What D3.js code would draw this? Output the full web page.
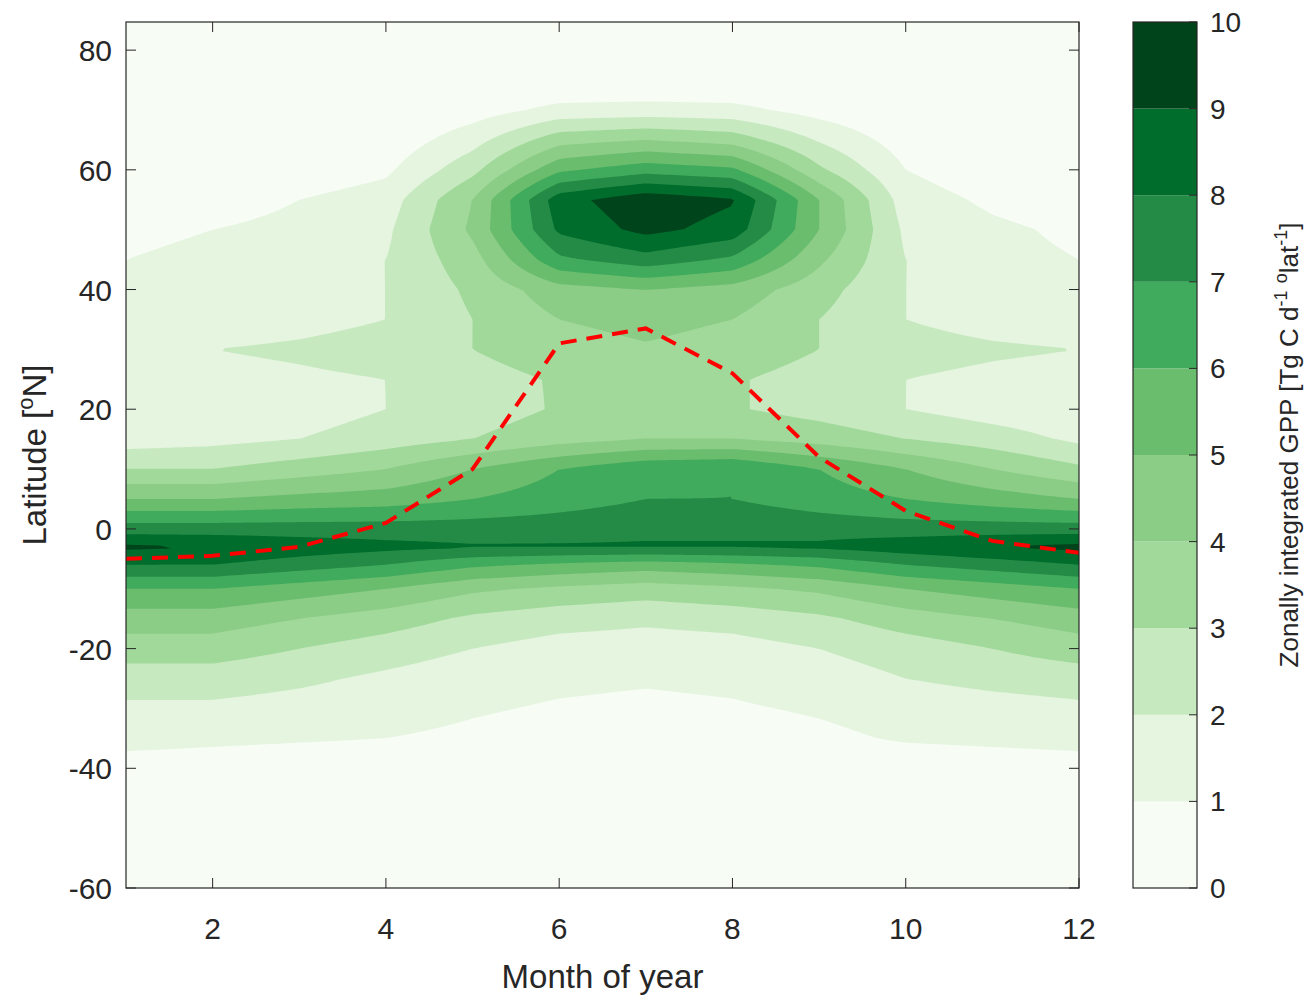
<!DOCTYPE html>
<html><head><meta charset="utf-8">
<script src="https://cdn.jsdelivr.net/npm/d3@7"></script>
<style>body{margin:0;background:#fff}text{font-family:"Liberation Sans",Arial,sans-serif;fill:#262626}</style>
</head><body><svg id="c" width="1308" height="998"></svg>
<script>
const months=[1,2,3,4,5,6,7,8,9,10,11,12];
const lats=[-60,-45,-40,-35,-30,-25,-20,-15,-10,-6,-3,0,5,10,15,20,25,30,35,40,45,50,55,60,65,70,75,85];
const gpp=[
[0,0,0,0,0,0,0,0,0,0,0,0],
[0,0,0,0,0,0,0,0,0,0,0,0],
[0.6,0.5,0.4,0.3,0.2,0.2,0.2,0.2,0.3,0.4,0.5,0.6],
[1.3,1.2,1.1,1,0.8,0.6,0.6,0.6,0.8,1.1,1.2,1.3],
[1.8,1.8,1.6,1.4,1.1,0.9,0.8,0.9,1.1,1.4,1.6,1.8],
[2.5,2.5,2.2,1.8,1.4,1.2,1.1,1.2,1.5,2,2.3,2.5],
[3.5,3.5,3,2.5,2,1.6,1.5,1.6,2,2.5,3,3.5],
[4.5,4.5,4,3.5,2.8,2.4,2.2,2.4,2.8,3.5,4,4.5],
[6,6,5.5,5,4.2,3.8,3.5,3.8,4.2,5,5.5,6],
[8,8,7.5,7,6.2,5.8,5.5,5.8,6.2,7,7.5,8],
[9.2,9,8.6,8.3,8.1,8.1,8.1,8.1,8.2,8.6,9,9.3],
[7.5,7.5,7.5,7.5,7.5,7.6,7.8,7.8,7.6,7.5,7.5,7.5],
[5,5,5.3,5.5,6,6.5,7,7,6.5,6,5.5,5],
[3,3,3.5,4,5,6,6.8,7,6,5,4,3.2],
[1.5,1.7,2,2.5,3,3.6,4,4,3.6,3,2.5,1.8],
[1.2,1.2,1.5,2,2.5,3.1,3.3,3.1,2.6,2,1.5,1.2],
[1.5,1.6,1.8,2,2.6,3.1,3.3,3.1,2.6,2,1.7,1.5],
[2,2,2.2,2.5,3,3.6,3.9,3.6,3,2.5,2.2,2],
[1.2,1.3,1.6,2,3,4,4.3,4,3,2,1.5,1.2],
[1,1.2,1.5,2,3.2,4.6,5,4.6,3.4,2,1.3,1],
[1,1.2,1.5,2,3.6,6.8,7.6,6.8,4.2,2,1.3,1],
[0.8,1,1.3,1.8,4.2,8.2,9.3,8.6,5,1.8,1.2,0.8],
[0.3,0.5,1,1.5,4,8.6,9.7,9.1,5,1.5,0.8,0.4],
[0,0,0.3,0.8,2.7,5.8,6.6,6.2,3.2,1,0.3,0],
[0,0,0,0.3,1.6,3.6,4,3.6,1.9,0.5,0,0],
[0,0,0,0,0.5,1.3,1.4,1.3,0.6,0,0,0],
[0,0,0,0,0,0,0,0,0,0,0,0],
[0,0,0,0,0,0,0,0,0,0,0,0]];
const lineLat=[-5,-4.5,-3,1,10,31,33.5,26,12,3,-2,-4];
const xTicks=[2,4,6,8,10,12], yTicks=[-60,-40,-20,0,20,40,60,80], cTicks=[0,1,2,3,4,5,6,7,8,9,10];
const colors=["#f7fcf5","#e5f5e0","#c7e9c0","#a1d99b","#8bcc86","#6abd6d","#41ab5d","#238b45","#006d2c","#00441b"];

const svg=d3.select("#c");
const L=126,R=1079,T=22,B=888;
const x=d3.scaleLinear().domain([1,12]).range([L,R]);
const y=d3.scaleLinear().domain([-60,84.7]).range([B,T]);

const nx=220, ny=300, latMin=-60, latMax=85;
const vals=new Array(nx*ny);
for(let j=0;j<ny;j++){const la=latMax-(latMax-latMin)*j/(ny-1);
 let k=d3.bisectRight(lats,la)-1;k=Math.max(0,Math.min(lats.length-2,k));
 const t=(la-lats[k])/(lats[k+1]-lats[k]);
 for(let i=0;i<nx;i++){const m=1+11*i/(nx-1);let a=Math.min(10,Math.floor(m-1));const s=m-1-a;const a2=Math.min(11,a+1);
  const v0=gpp[k][a]*(1-s)+gpp[k][a2]*s, v1=gpp[k+1][a]*(1-s)+gpp[k+1][a2]*s;
  vals[j*nx+i]=v0*(1-t)+v1*t;}}
const conts=d3.contours().size([nx,ny]).thresholds(d3.range(1,10))(vals);
const proj=d3.geoTransform({point:function(px,py){
  const gx=Math.max(0,Math.min(nx-1,px-0.5)), gy=Math.max(0,Math.min(ny-1,py-0.5));
  this.stream.point(x(1+11*gx/(nx-1)), y(latMax-(latMax-latMin)*gy/(ny-1)));}});
const path=d3.geoPath(proj);
svg.append("defs").append("clipPath").attr("id","clp").append("rect").attr("x",L).attr("y",T).attr("width",R-L).attr("height",B-T);
const g=svg.append("g").attr("clip-path","url(#clp)");
g.append("rect").attr("x",L).attr("y",T).attr("width",R-L).attr("height",B-T).attr("fill",colors[0]);
g.selectAll("path.c").data(conts).join("path").attr("d",path).attr("fill",d=>colors[d.value]);
g.append("path").datum(months.map((m,i)=>[m,lineLat[i]]))
 .attr("d",d3.line().x(d=>x(d[0])).y(d=>y(d[1]))).attr("fill","none").attr("stroke","#ff0000")
 .attr("stroke-width",4).attr("stroke-dasharray","16,10");

svg.append("rect").attr("x",L).attr("y",T).attr("width",R-L).attr("height",B-T).attr("fill","none").attr("stroke","#262626").attr("stroke-width",1.2);
const tl=10;
xTicks.forEach(v=>{const px=x(v);
 svg.append("line").attr("x1",px).attr("x2",px).attr("y1",B).attr("y2",B-tl).attr("stroke","#262626");
 svg.append("line").attr("x1",px).attr("x2",px).attr("y1",T).attr("y2",T+tl).attr("stroke","#262626");
 svg.append("text").attr("x",px).attr("y",B+51).attr("text-anchor","middle").attr("font-size",30).text(v);});
yTicks.forEach(v=>{const py=y(v);
 svg.append("line").attr("x1",L).attr("x2",L+tl).attr("y1",py).attr("y2",py).attr("stroke","#262626");
 svg.append("line").attr("x1",R).attr("x2",R-tl).attr("y1",py).attr("y2",py).attr("stroke","#262626");
 svg.append("text").attr("x",L-14).attr("y",py+11).attr("text-anchor","end").attr("font-size",30).text(v);});
svg.append("text").attr("x",(L+R)/2).attr("y",988).attr("text-anchor","middle").attr("font-size",33).text("Month of year");
const yl=svg.append("text").attr("transform",`translate(46,${(T+B)/2}) rotate(-90)`).attr("text-anchor","middle").attr("font-size",33);
yl.append("tspan").text("Latitude [");yl.append("tspan").attr("dy",-13).attr("font-size",22).text("o");
yl.append("tspan").attr("dy",13).text("N]");

const cx0=1133,cx1=1197;
const cy=d3.scaleLinear().domain([0,10]).range([B,T]);
d3.range(10).forEach(i=>svg.append("rect").attr("x",cx0).attr("y",cy(i+1)).attr("width",cx1-cx0).attr("height",cy(i)-cy(i+1)).attr("fill",colors[i]));
svg.append("rect").attr("x",cx0).attr("y",T).attr("width",cx1-cx0).attr("height",B-T).attr("fill","none").attr("stroke","#262626").attr("stroke-width",1.2);
cTicks.forEach(v=>{const py=cy(v);
 svg.append("line").attr("x1",cx1).attr("x2",cx1-8).attr("y1",py).attr("y2",py).attr("stroke","#262626");
 svg.append("text").attr("x",1210).attr("y",py+10).attr("font-size",28).text(v);});
const cl=svg.append("text").attr("transform",`translate(1298,${(T+B)/2-10}) rotate(-90)`).attr("text-anchor","middle").attr("font-size",26);
cl.append("tspan").text("Zonally integrated GPP [Tg C d");
cl.append("tspan").attr("dy",-11).attr("font-size",18).text("-1");
cl.append("tspan").attr("dy",0).text(" ");
cl.append("tspan").attr("font-size",18).text("o");
cl.append("tspan").attr("dy",11).text("lat");
cl.append("tspan").attr("dy",-11).attr("font-size",18).text("-1");
cl.append("tspan").attr("dy",11).text("]");
</script></body></html>
